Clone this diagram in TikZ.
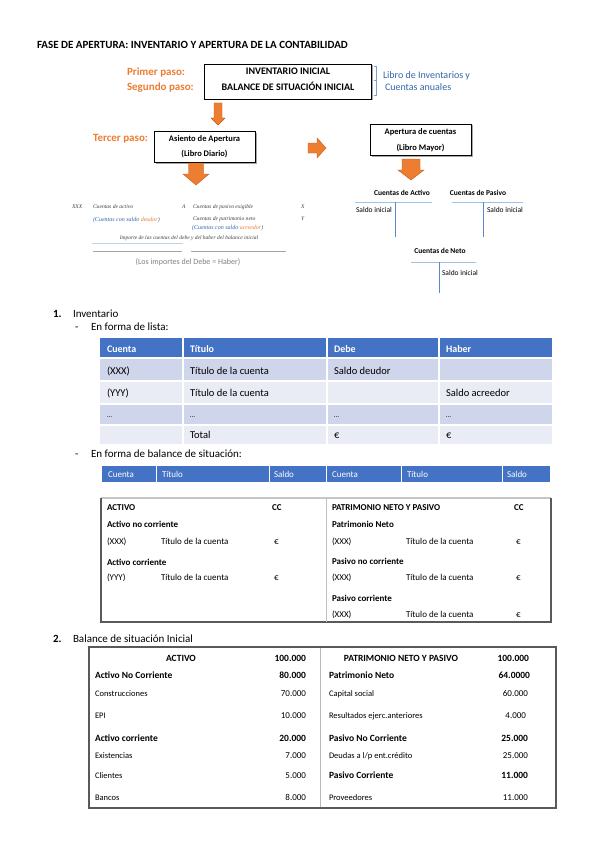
\documentclass[tikz,border=0pt]{standalone}
\usepackage{fontspec}
\setmainfont{Carlito}
\newfontfamily\jrnl{Liberation Serif}
\usetikzlibrary{shadows}
\definecolor{orng}{HTML}{ED7D31}
\definecolor{orngdk}{HTML}{C55A11}
\definecolor{hdrblue}{HTML}{4472C4}
\definecolor{txtblue}{HTML}{3465AF}
\definecolor{rowA}{HTML}{CFD5EA}
\definecolor{rowB}{HTML}{E9EBF5}
\definecolor{tline}{HTML}{9DC3E6}
\definecolor{tvert}{HTML}{5B87CF}
\definecolor{dkgrey}{HTML}{595959}
\definecolor{jgrey}{HTML}{404040}
\newcommand\DownBlk[6]{\filldraw[blockarrow] ({#1-#4/2},#2) -- ({#1+#4/2},#2) -- ({#1+#4/2},{#3-#6}) -- ({#1+#5/2},{#3-#6}) -- (#1,#3) -- ({#1-#5/2},{#3-#6}) -- ({#1-#4/2},{#3-#6}) -- cycle;}
\newcommand\RightBlk[6]{\filldraw[blockarrow] (#2,{#1-#4/2}) -- (#2,{#1+#4/2}) -- ({#3-#6},{#1+#4/2}) -- ({#3-#6},{#1+#5/2}) -- (#3,#1) -- ({#3-#6},{#1-#5/2}) -- ({#3-#6},{#1-#4/2}) -- cycle;}
\begin{document}
\begin{tikzpicture}[x=1pt,y=-1pt,
  every node/.style={inner sep=0pt, outer sep=0pt},
  tl/.style={anchor=base west},
  tc/.style={anchor=base},
  tr/.style={anchor=base east},
  blockarrow/.style={fill=orng, draw=orngdk, line width=0.4pt},
  stepbox/.style={draw=black, line width=0.6pt, fill=white,
    drop shadow={shadow xshift=1.5pt, shadow yshift=-1.5pt, fill=gray!70, opacity=1}},
  orangelbl/.style={tl, text=orng, font=\fontsize{11}{13}\selectfont\bfseries},
  boxtxt/.style={tc, font=\fontsize{10}{12}\selectfont\bfseries},
  smallbox/.style={tc, font=\fontsize{8.5}{10}\selectfont\bfseries},
  tacc/.style={tc, font=\fontsize{7.5}{9}\selectfont\bfseries},
  saldo/.style={tl, font=\fontsize{7.5}{9}\selectfont},
  jr/.style={tl, text=jgrey, font=\jrnl\itshape\fontsize{5.6}{6.5}\selectfont},
  jrc/.style={tl, text=txtblue, font=\jrnl\itshape\fontsize{6}{7}\selectfont},
  body/.style={tl, font=\fontsize{11}{13}\selectfont},
  bodyb/.style={tl, font=\fontsize{11}{13}\selectfont\bfseries},
  hdr/.style={tl, text=white, font=\fontsize{10}{12}\selectfont\bfseries},
  cell/.style={tl, font=\fontsize{10.5}{12}\selectfont},
  bhdr/.style={tl, text=white, font=\fontsize{9}{11}\selectfont},
  bsb/.style={tl, font=\fontsize{9}{11}\selectfont\bfseries},
  bsr/.style={tl, font=\fontsize{9}{11}\selectfont},
  bib/.style={tl, font=\fontsize{9.5}{11}\selectfont\bfseries},
  bir/.style={tl, font=\fontsize{8.5}{10}\selectfont},
  vb/.style={tr, font=\fontsize{9.5}{11}\selectfont\bfseries},
  vr/.style={tr, font=\fontsize{9}{11}\selectfont},
  taline/.style={draw=tline, line width=0.6pt},
  tavert/.style={draw=tvert, line width=0.8pt}]
\useasboundingbox (0,0) rectangle (599,848);
\fill[white] (0,0) rectangle (599,848);

% ---------- title ----------
\node[tl, font=\fontsize{11}{13}\selectfont\bfseries] (title) at (37,49) {FASE DE APERTURA: INVENTARIO Y APERTURA DE LA CONTABILIDAD};

% ---------- step 1 & 2 ----------
\node[orangelbl] (p1) at (127,76) {Primer paso:};
\node[orangelbl] (p2) at (127,91) {Segundo paso:};
\node[stepbox, minimum width=167pt, minimum height=35pt] (invbox) at (287.5,81.5) {};
\node[boxtxt] (inv1) at (288,74.5) {INVENTARIO INICIAL};
\node[boxtxt] (inv2) at (288,90.5) {BALANCE DE SITUACIÓN INICIAL};
\coordinate (brT) at (376,66);
\coordinate (brB) at (376,95);
\coordinate (brM) at (376,80.5);
\draw[draw=tvert!80, line width=0.6pt] ([xshift=-2.5pt]brT) -- (brT) -- (brB) -- ([xshift=-2.5pt]brB);
\draw[draw=tvert!80, line width=0.6pt] (brM) -- ([xshift=-2.5pt]brM);
\node[tl, text=txtblue, font=\fontsize{10}{12}\selectfont] (lib1) at (383,79) {Libro de Inventarios y};
\node[tl, text=txtblue, font=\fontsize{10}{12}\selectfont] (lib2) at (385,91) {Cuentas anuales};

\DownBlk{218}{103}{125}{8}{14}{7}

% ---------- step 3 ----------
\node[orangelbl] (p3) at (93,141) {Tercer paso:};
\node[stepbox, minimum width=101pt, minimum height=31pt] (asbox) at (204.5,146.5) {};
\node[smallbox] (as1) at (204.5,141) {Asiento de Apertura};
\node[smallbox] (as2) at (204.5,157) {(Libro Diario)};
\DownBlk{196}{163}{185}{15}{26}{11}
\RightBlk{148}{308}{326}{10}{20}{9}
\node[stepbox, minimum width=101pt, minimum height=31pt] (mybox) at (420.5,139.5) {};
\node[smallbox] (my1) at (420.5,135) {Apertura de cuentas};
\node[smallbox] (my2) at (420.5,150) {(Libro Mayor)};
\DownBlk{411}{159}{180}{18}{26}{10}

% ---------- T accounts ----------
\node[tacc] (ca) at (402,195.5) {Cuentas de Activo};
\node[tacc] (cp) at (478,195.5) {Cuentas de Pasivo};
\coordinate (aL) at (355,202); \coordinate (aR) at (432,202);
\coordinate (aT) at (395,202); \coordinate (aB) at (395,237);
\draw[taline] (aL) -- (aR);
\draw[tavert] (aT) -- (aB);
\node[saldo] (sa) at (356,212) {Saldo inicial};
\coordinate (pL) at (452,202); \coordinate (pR) at (523,202);
\coordinate (pT) at (483,202); \coordinate (pB) at (483,237);
\draw[taline] (pL) -- (pR);
\draw[tavert] (pT) -- (pB);
\node[saldo] (sp) at (487,212) {Saldo inicial};
\node[tacc] (cn) at (440,253) {Cuentas de Neto};
\coordinate (nL) at (411,262); \coordinate (nR) at (476,262);
\coordinate (nT) at (439,262); \coordinate (nB) at (439,293);
\draw[taline] (nL) -- (nR);
\draw[tavert] (nT) -- (nB);
\node[saldo] (sn) at (442,275) {Saldo inicial};

% ---------- journal entry ----------
\node[jr] (j1) at (72,208.5) {XXX};
\node[jr] (j2) at (93,208.5) {Cuentas de activo};
\node[jr] (j3) at (182,208.5) {A};
\node[jr] (j4) at (193,208.5) {Cuentas de pasivo exigible};
\node[jr] (j5) at (301,208.5) {X};
\node[jrc] (j6) at (93,221.5) {(Cuentas con saldo \textcolor{orng}{deudor})};
\node[jr] (j7) at (193,220.5) {Cuentas de patrimonio neto};
\node[jr] (j8) at (301,220.5) {Y};
\node[jrc] (j9) at (192,229.5) {(Cuentas con saldo \textcolor{orng}{acreedor})};
\node[tc, text=jgrey, font=\jrnl\itshape\fontsize{5.5}{6.5}\selectfont] (j10) at (189,239) {Importe de las cuentas del debe y del haber del balance inicial};
\coordinate (l1a) at (92,243); \coordinate (l1b) at (183,243);
\draw[draw=tline!70, line width=0.5pt] (l1a) -- (l1b);
\coordinate (l2a) at (93,251); \coordinate (l2b) at (182,251);
\coordinate (l3a) at (191,251); \coordinate (l3b) at (286,251);
\draw[draw=gray!70, line width=0.6pt] (l2a) -- (l2b);
\draw[draw=gray!70, line width=0.6pt] (l3a) -- (l3b);
\node[tc, text=gray, font=\fontsize{8}{10}\selectfont] (dh) at (188,264) {(Los importes del Debe = Haber)};

% ---------- section 1 ----------
\node[bodyb] (n1) at (53,317) {1.};
\node[body] (s1) at (73,317) {Inventario};
\node[body] (d1) at (75,330) {-};
\node[body] (s1a) at (91,330) {En forma de lista:};

% list table
\fill[hdrblue] (100,338) rectangle (552,358);
\fill[rowA] (100,358) rectangle (552,381);
\fill[rowB] (100,381) rectangle (552,404);
\fill[rowA] (100,404) rectangle (552,425);
\fill[rowB] (100,425) rectangle (552,444);
\foreach \yy in {358,381,404,425} \draw[white, line width=1.2pt] (100,\yy) -- (552,\yy);
\foreach \xx in {183,327,439} \draw[white, line width=1.2pt] (\xx,338) -- (\xx,444);
\node[hdr] (h1) at (107,352) {Cuenta};
\node[hdr] (h2) at (190,352) {Título};
\node[hdr] (h3) at (334,352) {Debe};
\node[hdr] (h4) at (446,352) {Haber};
\node[cell] (r11) at (107,374) {(XXX)};
\node[cell] (r12) at (190,374) {Título de la cuenta};
\node[cell] (r13) at (334,374) {Saldo deudor};
\node[cell] (r21) at (107,396) {(YYY)};
\node[cell] (r22) at (190,396) {Título de la cuenta};
\node[cell] (r24) at (446,396) {Saldo acreedor};
\node[cell, font=\fontsize{7}{8}\selectfont] (r31) at (107,417) {…};
\node[cell, font=\fontsize{7}{8}\selectfont] (r32) at (190,417) {…};
\node[cell, font=\fontsize{7}{8}\selectfont] (r33) at (334,417) {…};
\node[cell, font=\fontsize{7}{8}\selectfont] (r34) at (446,417) {…};
\node[cell] (r42) at (190,438) {Total};
\node[cell] (r43) at (334,438) {€};
\node[cell] (r44) at (446,438) {€};

% balance form
\node[body] (d2) at (75,457) {-};
\node[body] (s1b) at (91,457) {En forma de balance de situación:};
\fill[hdrblue] (102,466) rectangle (550,482);
\foreach \xx in {156,269,326,401,502} \draw[white, line width=1pt] (\xx,466) -- (\xx,482);
\node[bhdr] (b1) at (108,477) {Cuenta};
\node[bhdr] (b2) at (162,477) {Título};
\node[bhdr] (b3) at (274,477) {Saldo};
\node[bhdr] (b4) at (332,477) {Cuenta};
\node[bhdr] (b5) at (407,477) {Título};
\node[bhdr] (b6) at (507,477) {Saldo};

\coordinate (bxTL) at (101,498); \coordinate (bxTR) at (551,498);
\coordinate (bxBL) at (101,622); \coordinate (bxBR) at (551,622);
\draw[draw=gray!45, line width=2pt] (bxTL) -- (bxTR);
\draw[draw=dkgrey, line width=1.3pt] (bxTL) -- (bxBL) -- (bxBR) -- (bxTR);
\coordinate (bxMT) at (326,498); \coordinate (bxMB) at (326,622);
\draw[draw=gray!50, line width=0.6pt] (bxMT) -- (bxMB);
\node[bsb] (ba1) at (107,510) {ACTIVO};
\node[bsb] (ba2) at (272,510) {CC};
\node[bsb] (ba3) at (332,510) {PATRIMONIO NETO Y PASIVO};
\node[bsb] (ba4) at (514,510) {CC};
\node[bsb] (ba5) at (107,527) {Activo no corriente};
\node[bsr] (ba6) at (107,544) {(XXX)};
\node[bsr] (ba7) at (161,544) {Título de la cuenta};
\node[bsr] (ba8) at (274,544) {€};
\node[bsb] (ba9) at (107,565) {Activo corriente};
\node[bsr] (ba10) at (107,580) {(YYY)};
\node[bsr] (ba11) at (161,580) {Título de la cuenta};
\node[bsr] (ba12) at (274,580) {€};
\node[bsb] (bp1) at (332,527) {Patrimonio Neto};
\node[bsr] (bp2) at (332,544) {(XXX)};
\node[bsr] (bp3) at (406,544) {Título de la cuenta};
\node[bsr] (bp4) at (516,544) {€};
\node[bsb] (bp5) at (332,564) {Pasivo no corriente};
\node[bsr] (bp6) at (332,580) {(XXX)};
\node[bsr] (bp7) at (406,580) {Título de la cuenta};
\node[bsr] (bp8) at (516,580) {€};
\node[bsb] (bp9) at (332,601) {Pasivo corriente};
\node[bsr] (bp10) at (332,617) {(XXX)};
\node[bsr] (bp11) at (406,617) {Título de la cuenta};
\node[bsr] (bp12) at (516,617) {€};

% ---------- section 2 ----------
\node[bodyb] (n2) at (53,642) {2.};
\node[body] (s2) at (73,642) {Balance de situación Inicial};
\coordinate (cTL) at (89,647); \coordinate (cBR) at (556,808);
\coordinate (cMT) at (320,647); \coordinate (cMB) at (320,808);
\draw[draw=gray!55, line width=0.6pt] (cMT) -- (cMB);
\draw[draw=dkgrey, line width=1.4pt] (cTL) rectangle (cBR);
\node[tc, font=\fontsize{9.5}{11}\selectfont\bfseries] (ia) at (181,661) {ACTIVO};
\node[vb] (iav) at (306,661) {100.000};
\node[tc, font=\fontsize{9.5}{11}\selectfont\bfseries] (ip) at (401,661) {PATRIMONIO NETO Y PASIVO};
\node[vb] (ipv) at (529,661) {100.000};
\node[bib] (L1) at (95,678) {Activo No Corriente}; \node[vb] (L1v) at (306,678) {80.000};
\node[bir] (L2) at (95,696) {Construcciones}; \node[vr] (L2v) at (306,696) {70.000};
\node[bir] (L3) at (95,718) {EPI}; \node[vr] (L3v) at (306,718) {10.000};
\node[bib] (L4) at (95,741) {Activo corriente}; \node[vb] (L4v) at (306,741) {20.000};
\node[bir] (L5) at (95,758) {Existencias}; \node[vr] (L5v) at (306,758) {7.000};
\node[bir] (L6) at (95,778) {Clientes}; \node[vr] (L6v) at (306,778) {5.000};
\node[bir] (L7) at (95,800) {Bancos}; \node[vr] (L7v) at (306,800) {8.000};
\node[bib] (R1) at (329,678) {Patrimonio Neto}; \node[vb] (R1v) at (530,678) {64.0000};
\node[bir] (R2) at (329,696) {Capital social}; \node[vr] (R2v) at (528,696) {60.000};
\node[bir] (R3) at (329,718) {Resultados ejerc.anteriores}; \node[vr] (R3v) at (526,718) {4.000};
\node[bib] (R4) at (329,741) {Pasivo No Corriente}; \node[vb] (R4v) at (528,741) {25.000};
\node[bir] (R5) at (329,758) {Deudas a l/p ent.crédito}; \node[vr] (R5v) at (528,758) {25.000};
\node[bib] (R6) at (329,778) {Pasivo Corriente}; \node[vb] (R6v) at (528,778) {11.000};
\node[bir] (R7) at (329,800) {Proveedores}; \node[vr] (R7v) at (528,800) {11.000};
\end{tikzpicture}
\end{document}
